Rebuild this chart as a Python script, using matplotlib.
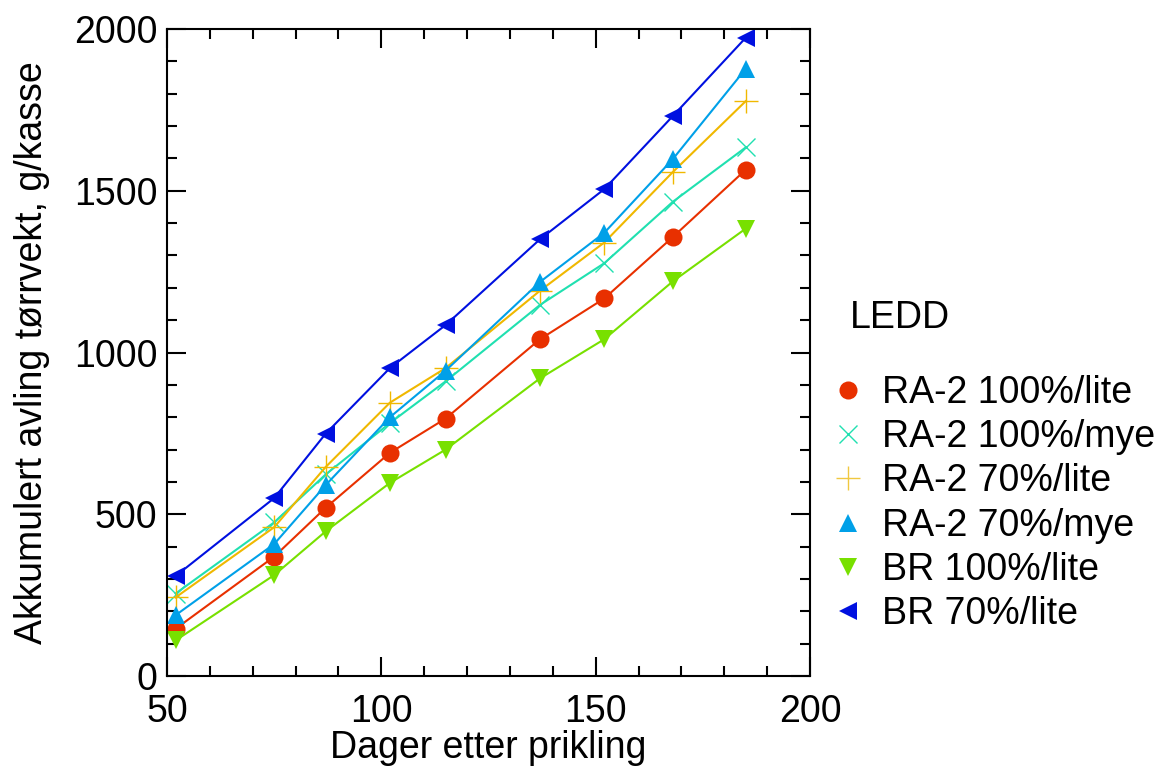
import matplotlib
matplotlib.use("Agg")
import matplotlib.pyplot as plt
from matplotlib.lines import Line2D
from matplotlib.ticker import MultipleLocator

plt.rcParams['font.family'] = ['Liberation Sans', 'DejaVu Sans']

# Dager etter prikling
dager = [52, 75, 87, 102, 115, 137, 152, 168, 185]

ra2_100_lite = [146, 369, 520, 690, 796, 1041, 1167, 1357, 1565]
ra2_100_mye = [255, 475, 623, 782, 911, 1147, 1276, 1466, 1634]
ra2_70_lite = [243, 460, 646, 845, 952, 1191, 1340, 1558, 1777]
ra2_70_mye = [188, 408, 590, 800, 944, 1218, 1370, 1598, 1877]
br_100_lite = [110, 312, 447, 597, 700, 920, 1041, 1220, 1383]
br_70_lite = [309, 550, 749, 952, 1085, 1350, 1505, 1731, 1973]

labels = ["RA-2 100%/lite", "RA-2 100%/mye", "RA-2 70%/lite",
          "RA-2 70%/mye", "BR 100%/lite", "BR 70%/lite"]
series = [ra2_100_lite, ra2_100_mye, ra2_70_lite, ra2_70_mye, br_100_lite, br_70_lite]
colors = ["#e83000", "#20e0b0", "#f0b800", "#00a0e8", "#78e000", "#0010e0"]
legend_colors = ["#e83000", "#20e0b0", "#f0c840", "#00a0e8", "#78e000", "#0010e0"]
markers = ["o", "x", "+", "^", "v", "<"]
sizes = [13, 13, 17, 13, 13, 13]

fig = plt.figure(figsize=(11.68, 7.74), dpi=100)
ax = fig.add_axes([0.143, 0.1266, 0.5505, 0.8359])

for y, c, m, s in zip(series, colors, markers, sizes):
    ax.plot(dager, y, color=c, lw=1.5, marker=m, ms=s, mew=1.0 if m in "x+" else 0,
            mec=c, mfc=c)

ax.set_xlim(50, 200)
ax.set_ylim(0, 2000)
ax.xaxis.set_major_locator(MultipleLocator(50))
ax.xaxis.set_minor_locator(MultipleLocator(10))
ax.yaxis.set_major_locator(MultipleLocator(500))
ax.yaxis.set_minor_locator(MultipleLocator(100))
ax.tick_params(which='both', direction='in', top=True, right=True, width=1.5,
               labelsize=27, pad=7)
ax.tick_params(axis='x', which='both', pad=13)
ax.tick_params(which='major', length=14)
ax.tick_params(which='minor', length=7.5)
for sp in ax.spines.values():
    sp.set_linewidth(1.5)

ax.set_xlabel("Dager etter prikling", fontsize=27, labelpad=0)
ax.set_ylabel("Akkumulert avling tørrvekt, g/kasse", fontsize=27, labelpad=17)

fig.text(850 / 1168, 1 - 318 / 774, "LEDD", fontsize=27, ha='left', va='center')

handles = [Line2D([], [], color=c, marker=m, ms=s, ls='none',
                  mew=1.0 if m in "x+" else 0, mec=c, mfc=c)
           for c, m, s in zip(legend_colors, markers, sizes)]
leg = fig.legend(handles, labels, loc='upper left',
                 bbox_to_anchor=(0.697, 0.535), frameon=False, fontsize=27,
                 handlelength=1.0, handletextpad=0.4, labelspacing=0.22,
                 borderpad=0.4, borderaxespad=0)

fig.savefig("out.png", dpi=100)
